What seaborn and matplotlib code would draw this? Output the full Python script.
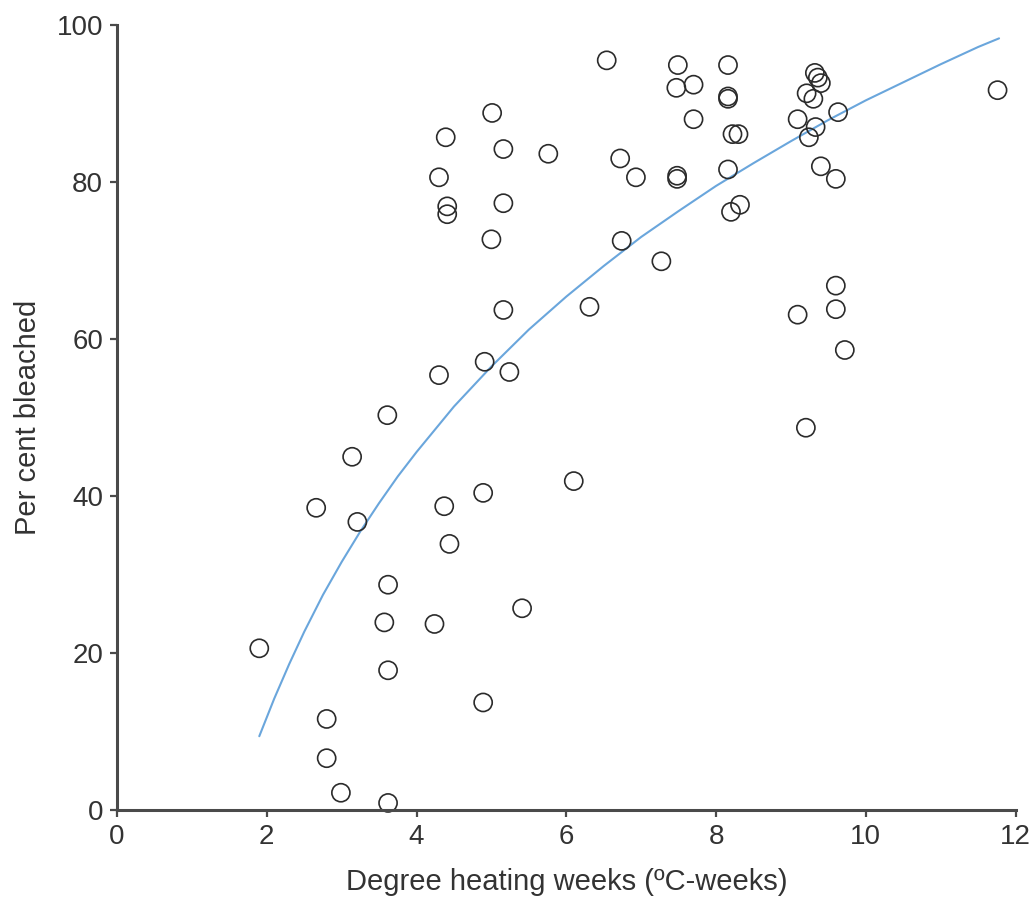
import numpy as np
import pandas as pd
import matplotlib
matplotlib.use("Agg")
import matplotlib.pyplot as plt
import seaborn as sns

# ---------- DATA ----------
dhw = [1.90, 2.66, 2.80, 2.80, 2.99, 3.14, 3.21, 3.61, 3.62, 3.57,
       3.62, 3.62, 4.30, 4.39, 4.41, 4.41, 4.30, 4.37, 4.44, 4.24,
       5.01, 5.16, 5.16, 5.00, 5.16, 4.91, 5.24, 4.89, 5.41, 4.89,
       5.76, 6.10, 6.31, 6.54, 6.72, 6.93, 6.74, 7.27, 7.49, 7.47,
       7.70, 7.70, 7.48, 7.48, 8.16, 8.16, 8.16, 8.22, 8.30, 8.16,
       8.20, 8.32, 9.32, 9.36, 9.40, 9.21, 9.30, 9.09, 9.63, 9.33,
       9.24, 9.40, 9.60, 9.60, 9.60, 9.72, 9.09, 9.20, 11.76]
bleached = [20.6, 38.5, 11.6, 6.6, 2.2, 45.0, 36.7, 50.3, 28.7, 23.9,
            17.8, 0.9, 80.6, 85.7, 76.9, 75.9, 55.4, 38.7, 33.9, 23.7,
            88.8, 84.2, 77.3, 72.7, 63.7, 57.1, 55.8, 40.4, 25.7, 13.7,
            83.6, 41.9, 64.1, 95.5, 83.0, 80.6, 72.5, 69.9, 94.9, 92.0,
            92.4, 88.0, 80.8, 80.4, 94.9, 90.9, 90.6, 86.1, 86.1, 81.6,
            76.2, 77.1, 93.9, 93.3, 92.6, 91.3, 90.6, 88.0, 88.9, 87.0,
            85.7, 82.0, 80.4, 66.8, 63.8, 58.6, 63.1, 48.7, 91.7]

# fitted curve as drawn in the picture (read at many x positions)
curve_x = [1.90, 2.10, 2.30, 2.50, 2.75, 3.00, 3.25, 3.50, 3.75, 4.00,
           4.50, 5.00, 5.50, 6.00, 6.50, 7.00, 7.50, 8.00, 8.50, 9.00,
           9.50, 10.00, 10.50, 11.00, 11.50, 11.78]
curve_y = [9.4, 14.2, 18.6, 22.7, 27.4, 31.6, 35.5, 39.1, 42.5, 45.6,
           51.4, 56.5, 61.2, 65.4, 69.3, 73.0, 76.3, 79.5, 82.4, 85.2,
           87.9, 90.4, 92.7, 95.0, 97.2, 98.3]

x_ticks = [0, 2, 4, 6, 8, 10, 12]
y_ticks = [0, 20, 40, 60, 80, 100]

df = pd.DataFrame({"dhw": dhw, "bleached": bleached})
fit = pd.DataFrame({"dhw": curve_x, "bleached": curve_y})

# ---------- PLOT ----------
sns.set_style("ticks")
plt.rcParams["font.family"] = ["Liberation Sans", "DejaVu Sans"]

fig = plt.figure(figsize=(10.31, 9.13), dpi=100)
ax = fig.add_axes([0.1135, 0.1128, 0.8715, 0.8598])

axis_col = "#4a4a4a"
sns.lineplot(data=fit, x="dhw", y="bleached", ax=ax, color="#6aa6dc",
             linewidth=1.5, zorder=1)
sns.scatterplot(data=df, x="dhw", y="bleached", ax=ax, s=170,
                facecolors="none", edgecolor="#2b2b2b", linewidth=1.2,
                zorder=2)

ax.set_xlim(0, 12)
ax.set_ylim(0, 100)
ax.set_xticks(x_ticks)
ax.set_yticks(y_ticks)
ax.set_xlabel("Degree heating weeks (\u00baC-weeks)", fontsize=21,
              color="#333333")
ax.set_ylabel("Per cent bleached", fontsize=21, color="#333333")
ax.xaxis.set_label_coords(0.5, -0.074)
ax.yaxis.set_label_coords(-0.083, 0.5)
ax.tick_params(axis="both", labelsize=20, colors=axis_col, labelcolor="#333333",
               length=5, width=1.6, pad=5)

sns.despine(ax=ax)
for side in ["left", "bottom"]:
    ax.spines[side].set_color(axis_col)
    ax.spines[side].set_linewidth(2.2)

for c in ax.collections:
    c.set_clip_on(False)
for ln in ax.lines:
    ln.set_clip_on(False)

fig.savefig("out.png", dpi=100, facecolor="white")
